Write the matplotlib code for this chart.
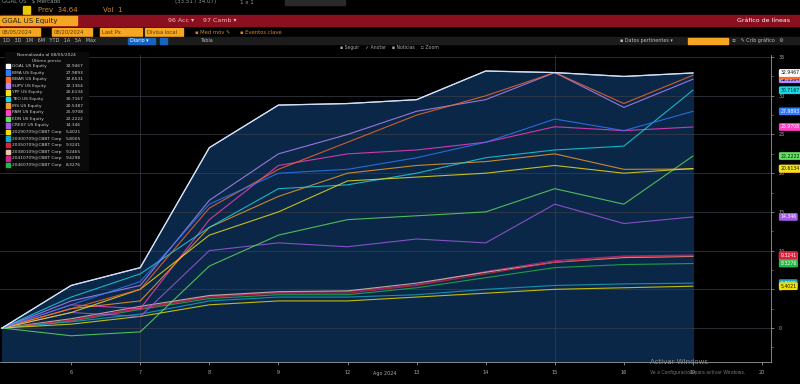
import matplotlib.pyplot as plt
import matplotlib.patches as mpatches

# trading days, Aug 2024
days = ["5", "6", "7", "8", "9", "12", "13", "14", "15", "16", "19", "20"]
tick_days = days[1:]

# % change, normalised to 08/05/2024
names = ["GGAL US Equity", "BMA US Equity", "BBAR US Equity", "SUPV US Equity",
         "YPF US Equity", "TEO US Equity", "IRS US Equity", "PAM US Equity",
         "EDN US Equity", "CRESY US Equity",
         "20290709@CBBT Corp", "20300709@CBBT Corp", "20350709@CBBT Corp",
         "20380109@CBBT Corp", "20410709@CBBT Corp", "20460709@CBBT Corp"]
last_px = ["32.9467", "27.9893", "32.6531", "32.1364", "20.6134", "30.7167",
           "20.5387", "25.9708", "22.2222", "14.346", "5.4021", "5.8005",
           "9.3241", "9.2465", "9.4298", "8.3276"]
colors = ["#ffffff", "#2f7bff", "#ff6a2a", "#b58cff", "#f2e21c", "#19d8e6",
          "#f5a02a", "#ff3fc4", "#5fe05f", "#a45ae6", "#f0e000", "#1aa8c8",
          "#d8233a", "#e6c8a8", "#c8288c", "#22b84a"]

ggal  = [0, 5.5, 7.8, 23.3, 28.8, 29.0, 29.5, 33.2, 33.0, 32.5, 32.95]
bma   = [0, 3.0, 6.0, 16.0, 20.0, 20.5, 22.0, 24.0, 27.0, 25.5, 27.99]
bbar  = [0, 2.5, 5.0, 15.5, 20.5, 24.0, 27.5, 30.0, 33.0, 29.0, 32.65]
supv  = [0, 3.5, 5.5, 16.5, 22.5, 25.0, 28.0, 29.5, 33.0, 28.5, 32.14]
ypf   = [0, 2.0, 5.0, 12.0, 15.0, 19.0, 19.5, 20.0, 21.0, 20.0, 20.61]
teo   = [0, 4.0, 7.0, 13.0, 18.0, 18.5, 20.0, 22.0, 23.0, 23.5, 30.72]
irs   = [0, 2.5, 3.5, 13.0, 17.0, 20.0, 21.0, 21.5, 22.5, 20.5, 20.54]
pam   = [0, 3.0, 2.5, 14.0, 21.0, 22.5, 23.0, 24.0, 26.0, 25.5, 25.97]
edn   = [0, -1.0, -0.5, 8.0, 12.0, 14.0, 14.5, 15.0, 18.0, 16.0, 22.22]
cresy = [0, 2.0, 1.5, 10.0, 11.0, 10.5, 11.5, 11.0, 16.0, 13.5, 14.35]
gd29  = [0, 0.5, 1.5, 3.0, 3.5, 3.5, 4.0, 4.5, 5.0, 5.2, 5.40]
gd30  = [0, 0.8, 1.8, 3.5, 4.0, 4.0, 4.3, 5.0, 5.5, 5.7, 5.80]
gd35  = [0, 1.0, 2.5, 4.0, 4.5, 4.5, 5.5, 7.0, 8.5, 9.2, 9.32]
gd38  = [0, 1.2, 2.8, 4.2, 4.7, 4.8, 5.8, 7.2, 8.5, 9.1, 9.25]
gd41  = [0, 1.0, 2.6, 4.1, 4.6, 4.7, 5.6, 7.3, 8.7, 9.3, 9.43]
gd46  = [0, 0.9, 2.4, 3.8, 4.3, 4.3, 5.2, 6.5, 7.8, 8.2, 8.33]
series = [ggal, bma, bbar, supv, ypf, teo, irs, pam, edn, cresy,
          gd29, gd30, gd35, gd38, gd41, gd46]

W, H = 800, 384
fig = plt.figure(figsize=(8, 3.84), dpi=100, facecolor="black")


def fx(x):
    return x / W


def fy(y):
    return 1 - y / H


def box(x0, y0, x1, y1, color, **kw):
    fig.patches.append(mpatches.Rectangle((fx(x0), fy(y1)), (x1 - x0) / W, (y1 - y0) / H,
                                          transform=fig.transFigure, color=color, zorder=0, **kw))


def txt(x, y, s, color="#cccccc", size=4, **kw):
    fig.text(fx(x), fy(y), s, color=color, fontsize=size, va="center", **kw)


# ---- terminal header ----
txt(2, 2, "GGAL US   $ Mercado", color="#999999")
txt(175, 2, "(33.51 / 34.07)", color="#999999")
txt(240, 2, "1 x 1", color="#999999")
box(285, 0, 345, 5, "#2a2a2a")
box(23, 6, 30, 14, "#e8c800")
txt(38, 10, "Prev  34.64", color="#d08a20", size=5)
txt(103, 10, "Vol  1", color="#d08a20", size=5)
box(0, 15, 800, 26, "#8a0f1f")
box(0, 16, 77, 25, "#f5a623")
txt(2, 20.5, "GGAL US Equity", color="#222222", size=5)
txt(168, 20.5, "96 Acc ▾", color="#f0c0c0", size=4.5)
txt(203, 20.5, "97 Camb ▾", color="#f0c0c0", size=4.5)
txt(790, 20.5, "Gráfico de líneas", color="#ffffff", size=4.5, ha="right")
for x0, x1, s in [(0, 40, "08/05/2024"), (52, 92, "08/20/2024"),
                  (100, 142, "Last Px"), (145, 183, "Divisa local")]:
    box(x0, 28, x1, 36, "#f5a623")
    txt(x0 + 2, 32, s, color="#5a3a00", size=3.8)
txt(195, 32, "▪ Med móv ✎", color="#d08a20", size=3.8)
txt(240, 32, "▪ Eventos clave", color="#d08a20", size=3.8)
box(0, 37, 800, 44, "#1c1c1c")
txt(3, 40.5, "1D   3D   1M   6M   YTD   1A   5A   Máx", color="#bbbbbb", size=3.5)
box(128, 37.5, 155, 43.5, "#1565c0")
txt(130, 40.5, "Diario ▾", color="#ffffff", size=3.5)
box(160, 37.5, 167, 43.5, "#1565c0")
txt(200, 40.5, "Tabla", color="#bbbbbb", size=3.5)
txt(620, 40.5, "▪ Datos pertinentes ▾", color="#bbbbbb", size=3.5)
box(688, 37.5, 728, 43.5, "#f5a623")
txt(732, 40.5, "≡   ✎ Crib gráfico   ⚙", color="#bbbbbb", size=3.5)
txt(340, 48, "▪ Seguir    ✓ Anotar    ▪ Noticias    ▫ Zoom", color="#aaaaaa", size=3.3)

# ---- chart ----
ax = fig.add_axes([fx(0), fy(362), 771 / W, (362 - 55) / H])
ax.set_facecolor("black")
x = list(range(len(ggal)))

ax.fill_between(x, ggal, -10, color="#0b2747", zorder=1)
for v in range(0, 36, 5):
    ax.axhline(v, color="#3a3f48", lw=0.5, zorder=1.5)
for xv in [2, 8]:
    ax.axvline(xv, color="#3a3f48", lw=0.5, zorder=1.5)

for s, c in zip(series[::-1], colors[::-1]):
    ax.plot(x, s, color=c, lw=0.8, alpha=0.8, zorder=2)
ax.plot(x, ggal, color="#cfe0ff", lw=0.9, zorder=3)

ax.set_xlim(-0.03, 11.13)
ax.set_ylim(-4.39, 35.27)
ax.set_xticks(range(1, len(days)))
ax.set_xticklabels(tick_days)
ax.yaxis.tick_right()
ax.set_yticks(range(0, 36, 5))
ax.set_yticks([v + 2.5 for v in range(-5, 35, 5)], minor=True)
ax.tick_params(colors="#aaaaaa", labelsize=3.5, length=2, width=0.5)
ax.tick_params(which="minor", colors="#888888", length=1.5, width=0.5)
for sp in ["top", "left"]:
    ax.spines[sp].set_visible(False)
for sp in ["right", "bottom"]:
    ax.spines[sp].set_color("#999999")
    ax.spines[sp].set_linewidth(0.6)
txt(385, 373, "Ago 2024", color="#aaaaaa", size=3.5, ha="center")

# last value tags on the right axis
for s, c, lab in list(zip(series, colors, last_px))[::-1]:
    r, g, b = [int(c[i:i + 2], 16) for i in (1, 3, 5)]
    tc = "#111111" if (0.3 * r + 0.59 * g + 0.11 * b) > 150 else "#ffffff"
    ax.annotate(lab, xy=(1.012, s[-1]), xycoords=("axes fraction", "data"),
                fontsize=3.3, color=tc, va="center", ha="left",
                bbox=dict(boxstyle="round,pad=0.3", fc=c, ec="none"))

# legend panel
box(5, 52, 88, 170, "#0a0a0a")
txt(46, 55.5, "Normalizado al 08/05/2024", color="#cccccc", size=3.2, ha="center")
txt(46, 61, "Último precio", color="#cccccc", size=3.2, ha="center")
for i, (n, c, lab) in enumerate(zip(names, colors, last_px)):
    yy = 66 + i * 6.6
    box(6, yy - 2.3, 10, yy + 2.3, c)
    txt(12, yy, n, color="#cccccc", size=3.2)
    txt(66, yy, lab, color="#cccccc", size=3.2)

txt(650, 362, "Activar Windows", color="#8a8a8a", size=5)
txt(650, 372, "Ve a Configuración para activar Windows.", color="#777777", size=3.3)

fig.savefig("out.png", dpi=100, facecolor="black")
